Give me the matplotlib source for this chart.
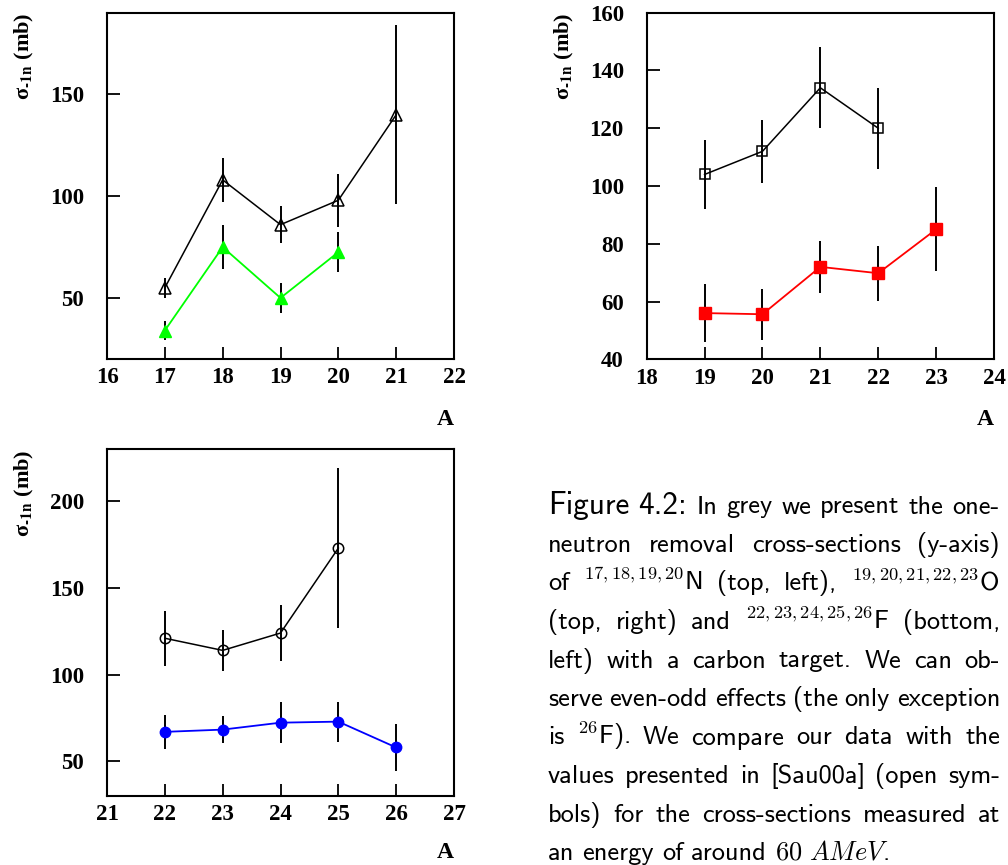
import matplotlib
matplotlib.use("Agg")
import matplotlib.pyplot as plt

# one-neutron removal cross-sections on carbon, in mb
# open symbols: previous measurement, filled symbols: this work

# nitrogen
n_a_ref   = [17, 18, 19, 20, 21]
n_ref     = [55, 108, 86, 98, 140]
n_ref_err = [5, 11, 9, 13, 44]
n_a       = [17, 18, 19, 20]
n_sig     = [34, 75, 50, 72.5]
n_err     = [4.5, 11, 7.5, 10]

# oxygen
o_a_ref   = [19, 20, 21, 22]
o_ref     = [104, 112, 134, 120]
o_ref_err = [12, 11, 14, 14]
o_a       = [19, 20, 21, 22, 23]
o_sig     = [56, 55.6, 72, 69.8, 85]
o_err     = [10, 8.8, 9, 9.5, 14.5]

# fluorine
f_a_ref   = [22, 23, 24, 25]
f_ref     = [121, 114, 124, 173]
f_ref_err = [16, 12, 16, 46]
f_a       = [22, 23, 24, 25, 26]
f_sig     = [67, 68.3, 72.3, 72.9, 58]
f_err     = [9.6, 8, 12, 11.5, 13.5]

caption_lines = [
    ["Figure", "4.2:", "In", "grey", "we", "present", "the", "one-"],
    ["neutron", "removal", "cross-sections", "(y-axis)"],
    ["of", "$^{17,18,19,20}$N", "(top,", "left),", "$^{19,20,21,22,23}$O"],
    ["(top,", "right)", "and", "$^{22,23,24,25,26}$F", "(bottom,"],
    ["left)", "with", "a", "carbon", "target.", "We", "can", "ob-"],
    ["serve", "even-odd", "effects", "(the", "only", "exception"],
    ["is", "$^{26}$F).", "We", "compare", "our", "data", "with", "the"],
    ["values", "presented", "in", "[Sau00a]", "(open", "sym-"],
    ["bols)", "for", "the", "cross-sections", "measured", "at"],
    ["an", "energy", "of", "around", r"$60\ AMeV$."],
]
big_words = {"Figure", "4.2:"}

W, H = 1008, 865
plt.rcParams["font.family"] = "Liberation Serif"
plt.rcParams["font.weight"] = "bold"

fig = plt.figure(figsize=(W / 100, H / 100), dpi=100)
fig.patch.set_facecolor("white")


def px_rect(left, top, right, bottom):
    return [left / W, 1 - bottom / H, (right - left) / W, (bottom - top) / H]


def panel(rect, xlim, ylim, yticks, ref, ours, mk, color, ms_ref, ms_our, ax_y):
    ax = fig.add_axes(rect)
    a, s, e = ref
    ax.errorbar(a, s, yerr=e, fmt="none", ecolor="black", elinewidth=1.4,
                capsize=0, zorder=2)
    ax.plot(a, s, color="black", lw=1.1, marker=mk, ms=ms_ref, mfc="none",
            mec="black", mew=1.1, zorder=3)
    a, s, e = ours
    ax.errorbar(a, s, yerr=e, fmt="none", ecolor="black", elinewidth=1.4,
                capsize=0, zorder=2)
    ax.plot(a, s, color=color, lw=1.3, marker=mk, ms=ms_our, mfc=color,
            mec=color, zorder=3)

    ax.set_xlim(*xlim)
    ax.set_ylim(*ylim)
    ax.set_xticks(range(xlim[0], xlim[1] + 1))
    ax.set_yticks(yticks)
    ax.tick_params(direction="in", length=9, width=1.3, top=False, right=False,
                   labelsize=16.5)
    ax.tick_params(axis="x", pad=6)
    ax.tick_params(axis="y", pad=16.5)
    for sp in ax.spines.values():
        sp.set_linewidth(1.5)

    ax.set_ylabel("σ$_{\\mathbf{\u2010}\\mathbf{1n}}$ (mb)", fontsize=16,
                  fontweight="bold", loc="top", math_fontfamily="stix")
    ax.yaxis.set_label_coords(-0.205, 1.0)
    ax.set_xlabel("A", fontsize=17, fontweight="bold", loc="right",
                  va="baseline")
    ax.xaxis.set_label_coords(1.0, ax_y)
    return ax


panel(px_rect(107, 13, 454, 359), (16, 22), (20, 190), [50, 100, 150],
      (n_a_ref, n_ref, n_ref_err), (n_a, n_sig, n_err), "^", "#00ff00",
      8.5, 8.5, -0.19)
panel(px_rect(646.7, 12.7, 994, 359.3), (18, 24), (40, 160),
      [40, 60, 80, 100, 120, 140, 160],
      (o_a_ref, o_ref, o_ref_err), (o_a, o_sig, o_err), "s", "#ff0000",
      7.5, 8, -0.19)
panel(px_rect(107, 449.3, 454, 796), (21, 27), (30, 230), [50, 100, 150, 200],
      (f_a_ref, f_ref, f_ref_err), (f_a, f_sig, f_err), "o", "#0000ff",
      7.5, 7.5, -0.178)

# caption, set word by word so every line but the last is justified
renderer = fig.canvas.get_renderer()
left, right = 548, 1000
for i, words in enumerate(caption_lines):
    base = 513.5 + 38.5 * i
    texts = []
    for w in words:
        size = 22.5 if w in big_words else 19
        t = fig.text(0, 1 - base / H, w, fontsize=size, weight="normal",
                     family=["cmss10", "DejaVu Sans"], va="baseline",
                     math_fontfamily="cm")
        texts.append(t)
    widths = [t.get_window_extent(renderer).width for t in texts]
    if i == len(caption_lines) - 1:
        gap = 8
    else:
        gap = (right - left - sum(widths)) / (len(words) - 1)
    x = left
    for t, w in zip(texts, widths):
        t.set_x(x / W)
        x += w + gap

fig.savefig("out.png", dpi=100)
